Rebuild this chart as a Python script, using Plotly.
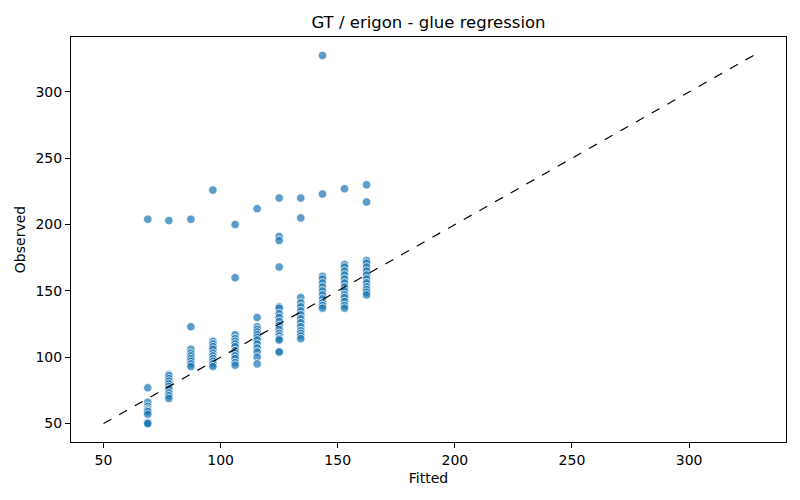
import plotly.graph_objects as go

# Fitted levels (discrete) and observed values per level
fitted_levels = [68.9, 77.9, 87.3, 96.7, 106.2, 115.6, 125.0, 134.2, 143.5, 152.9, 162.3]
observed_by_level = [
    [204, 77, 66, 63, 61, 60, 59, 57, 51, 50, 50],
    [203, 87, 86, 84, 82, 80, 78, 76, 73, 71, 69],
    [204, 123, 106, 103, 101, 99, 97, 95, 93],
    [226, 112, 110, 108, 106, 103, 101, 99, 97, 95, 93],
    [200, 160, 117, 114, 112, 110, 108, 105, 103, 101, 99, 96, 94],
    [212, 130, 123, 121, 119, 117, 115, 113, 110, 107, 104, 100, 95],
    [220, 191, 188, 168, 138, 137, 133, 130, 127, 124, 121, 118, 116, 114, 113, 104, 104],
    [220, 205, 145, 141, 138, 135, 132, 129, 126, 123, 120, 118, 116, 114],
    [327.5, 223, 161, 159, 156, 153, 150, 147, 144, 141, 139, 137],
    [227, 170, 168, 165, 162, 159, 156, 153, 150, 147, 145, 142, 139, 137],
    [230, 217, 173, 171, 168, 165, 162, 159, 156, 153, 151, 149, 147],
]

x_vals, y_vals = [], []
for fx, obs in zip(fitted_levels, observed_by_level):
    for o in obs:
        x_vals.append(fx)
        y_vals.append(o)

lo = min(min(x_vals), min(y_vals))
hi = max(max(x_vals), max(y_vals))
pad = (hi - lo) * 0.05

font = "DejaVu Sans"
W, H = 792, 492  # page body has an 8px margin
fig = go.Figure()
fig.add_trace(go.Scatter(
    x=x_vals, y=y_vals, mode="markers",
    marker=dict(size=8.5, color="rgba(31,119,180,0.72)",
                line=dict(color="white", width=0.8)),
    showlegend=False,
))
fig.add_trace(go.Scatter(
    x=[lo, hi], y=[lo, hi], mode="lines",
    line=dict(color="black", width=1.2, dash="dash"),
    showlegend=False,
))

axis_common = dict(
    showgrid=False, zeroline=False, showline=True, linecolor="black",
    linewidth=1, mirror=True, ticks="outside", ticklen=5, tickcolor="black",
    tickfont=dict(family=font, size=14, color="black"), automargin=False,
)
fig.update_layout(
    width=W, height=H,
    margin=dict(l=63, r=14, t=29, b=58),
    paper_bgcolor="white", plot_bgcolor="white",
    title=dict(text="GT / erigon - glue regression", x=0.5, xanchor="center",
               xref="paper", y=1 - 14 / H, yanchor="middle", automargin=False,
               font=dict(family=font, size=16.5, color="black")),
    xaxis=dict(title=dict(text="Fitted", font=dict(family=font, size=14, color="black"), standoff=6),
               range=[lo - pad, hi + pad], tickvals=[50, 100, 150, 200, 250, 300], **axis_common),
    yaxis=dict(title=dict(text="Observed", font=dict(family=font, size=14, color="black"), standoff=6),
               range=[lo - pad, hi + pad], tickvals=[50, 100, 150, 200, 250, 300], **axis_common),
)
fig.write_html("out.html")
